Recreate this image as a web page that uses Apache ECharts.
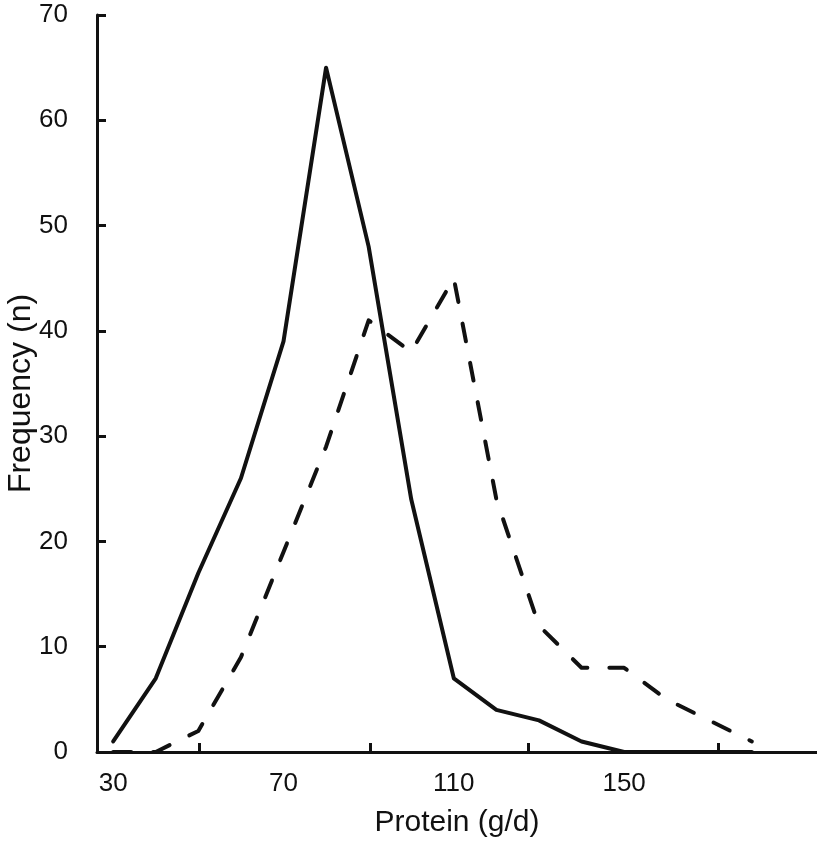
<!DOCTYPE html>
<html>
<head>
<meta charset="utf-8">
<script src="https://cdn.jsdelivr.net/npm/echarts@6/dist/echarts.min.js"></script>
<style>
  html, body { margin: 0; padding: 0; background: #fff; }
  #chart { width: 817px; height: 844px; }
</style>
</head>
<body>
<div id="chart"></div>
<script>
// protein intake bins (g/d)
const protein = [30, 40, 50, 60, 70, 80, 90, 100, 110, 120, 130, 140, 150, 160, 170, 180]
// solid line
const solidFreq = [1, 7, 17, 26, 39, 65, 48, 24, 7, 4, 3, 1, 0, 0, 0, 0]
// dashed line
const dashedFreq = [0, 0, 2, 9, 19, 29, 41, 38, 45, 24, 12, 8, 8, 5, 3, 1]

const xLabels = [30, 70, 110, 150]
const xTicks = [50.2, 90.3, 127.4, 172]

const ink = '#111'
const font = 'Liberation Sans, Arial, sans-serif'

const toPairs = (ys) => protein.map((x, i) => [x, ys[i]])

const myChart = echarts.init(document.getElementById('chart'))

const option = {
  animation: false,
  backgroundColor: '#fff',
  grid: { left: 97, right: 0, top: 15, bottom: 92, outerBoundsMode: 'none', containLabel: false },
  xAxis: {
    type: 'value',
    min: 26.2,
    max: 195.3,
    name: 'Protein (g/d)',
    nameLocation: 'middle',
    nameMoveOverlap: false,
    nameGap: 56,
    nameTextStyle: { color: ink, fontSize: 30, fontFamily: font },
    splitLine: { show: false },
    axisLine: { lineStyle: { color: ink, width: 3 } },
    axisTick: {
      inside: true,
      length: 9,
      customValues: xTicks,
      lineStyle: { color: ink, width: 3 }
    },
    axisLabel: {
      customValues: xLabels,
      margin: 19,
      color: ink,
      fontSize: 26,
      fontFamily: font
    }
  },
  yAxis: {
    type: 'value',
    min: 0,
    max: 70,
    interval: 10,
    name: 'Frequency (n)',
    nameLocation: 'middle',
    nameMoveOverlap: false,
    nameGap: 60,
    nameTextStyle: { color: ink, fontSize: 32, fontFamily: font, padding: [0, 20, 0, 0] },
    splitLine: { show: false },
    axisLine: { show: true, lineStyle: { color: ink, width: 3 } },
    axisTick: { show: true, inside: true, length: 9, lineStyle: { color: ink, width: 3 } },
    axisLabel: { margin: 29, color: ink, fontSize: 26, fontFamily: font }
  },
  series: [
    {
      type: 'line',
      data: toPairs(solidFreq),
      symbol: 'none',
      lineStyle: { color: ink, width: 4, join: 'round', cap: 'round' }
    },
    {
      type: 'line',
      data: toPairs(dashedFreq),
      symbol: 'none',
      lineStyle: { color: ink, width: 4, type: [18, 22], cap: 'round', join: 'round' }
    }
  ]
}

myChart.setOption(option)
</script>
</body>
</html>
